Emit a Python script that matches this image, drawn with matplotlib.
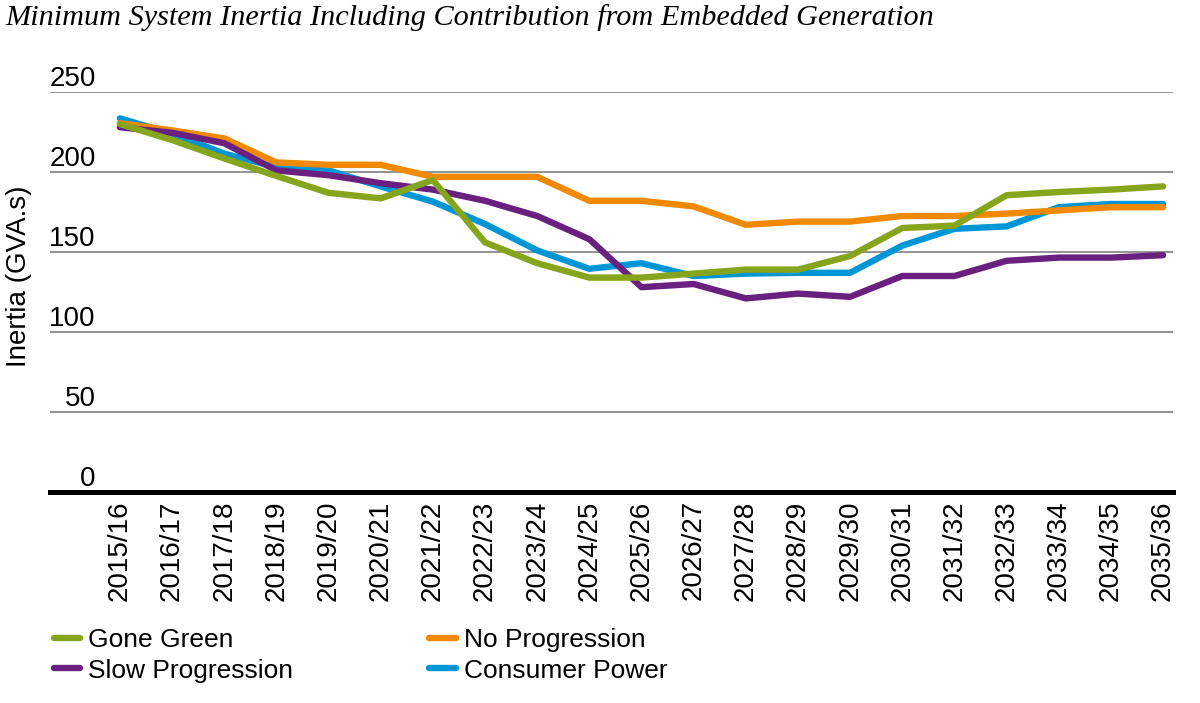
import matplotlib
matplotlib.use("Agg")
import matplotlib.pyplot as plt

years = ["2015/16", "2016/17", "2017/18", "2018/19", "2019/20", "2020/21", "2021/22",
         "2022/23", "2023/24", "2024/25", "2025/26", "2026/27", "2027/28", "2028/29",
         "2029/30", "2030/31", "2031/32", "2032/33", "2033/34", "2034/35", "2035/36"]

gone_green = [230, 220, 208.5, 197.5, 187, 183.5, 195, 156, 143, 134, 134, 136.5, 139, 139,
              147.5, 165, 166.5, 185.5, 187.5, 189, 191]
no_progression = [230.5, 226, 221, 206, 204.5, 204.5, 197, 197, 197, 182, 182, 178.5, 167, 169,
                  169, 172.5, 172.5, 174, 176, 178, 178]
slow_progression = [228, 224.5, 218, 201, 198, 193, 189, 182, 172.5, 158, 128, 130, 121, 124,
                    122, 135, 135, 144.5, 146.5, 146.5, 148]
consumer_power = [233.5, 224, 211.5, 203, 201, 191, 181.5, 167.5, 151, 139.5, 143, 135, 136.5, 137,
                  137, 154, 164.5, 166, 178, 180, 180]

yticks = [0, 50, 100, 150, 200, 250]

series = [
    ("Consumer Power", consumer_power, "#0096D6", 2),
    ("No Progression", no_progression, "#F18A00", 3),
    ("Slow Progression", slow_progression, "#69207E", 4),
    ("Gone Green", gone_green, "#86A51C", 5),
]

FONT = "Liberation Sans"
plt.rcParams["font.family"] = [FONT, "DejaVu Sans"]

fig = plt.figure(figsize=(12, 7.03), dpi=100)
ax = fig.add_axes([50 / 1200, 1 - 492 / 703, 1123 / 1200, 400 / 703])

x = list(range(len(years)))
handles = {}
for name, vals, color, z in series:
    (ln,) = ax.plot(x, vals, color=color, lw=4.6, zorder=z,
                    solid_capstyle="round", solid_joinstyle="round", label=name)
    handles[name] = ln

ax.set_ylim(0, 250)
ax.set_xlim(-1.34, 20.19)
ax.set_yticks(yticks)
ax.set_yticklabels([str(v) for v in yticks])
ax.set_xticks(x)
ax.set_xticklabels(years, rotation=90, fontsize=20, va="top", ha="center")
ax.yaxis.grid(True, color="#808080", lw=1.2, zorder=0)
ax.set_axisbelow(True)
ax.tick_params(axis="y", length=0, pad=-33, labelsize=20, colors="#000000")
ax.tick_params(axis="x", length=0, pad=6)
plt.setp(ax.get_yticklabels(), va="bottom", ha="right")
for s in ["top", "right", "left"]:
    ax.spines[s].set_visible(False)
ax.spines["bottom"].set_linewidth(3.6)
ax.spines["bottom"].set_color("#000000")
ax.spines["bottom"].set_zorder(6)

ax.set_ylabel("Inertia (GVA.s)", fontsize=20)
ax.yaxis.set_label_coords(-0.016, 0.54)

fig.text(5 / 1200, 1 - 25 / 703,
         "Minimum System Inertia Including Contribution from Embedded Generation",
         fontsize=21.8, style="italic", family=["Liberation Serif", "DejaVu Serif"],
         va="baseline", ha="left")

order = ["Gone Green", "Slow Progression", "No Progression", "Consumer Power"]
leg = fig.legend([handles[n] for n in order], order, ncol=2, loc="upper left",
                 bbox_to_anchor=(54 / 1200, 1 - 628 / 703), frameon=False,
                 fontsize=19, handlelength=1.0, handletextpad=0.3,
                 labelspacing=0.25, columnspacing=5.15, borderaxespad=0, borderpad=0)

fig.savefig("out.png", dpi=100)
